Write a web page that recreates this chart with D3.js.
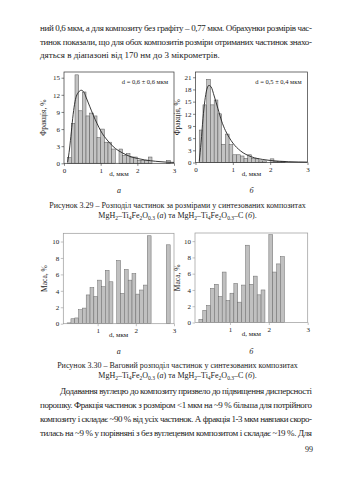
<!DOCTYPE html>
<html><head><meta charset="utf-8">
<script src="https://cdn.jsdelivr.net/npm/d3@7"></script>
<style>
html,body{margin:0;padding:0;background:#fff;}
svg{display:block;font-family:"Liberation Serif","Times New Roman",serif;}
</style></head>
<body>
<script>
// ---- data ----
const binWidth = 0.1;
// number distribution, composite a (bin left edges and %)
const binsTopA   = [0.1,0.2,0.3,0.4,0.5,0.6,0.7,0.8,0.9,1.0,1.1,1.2,1.3,1.5,1.6,1.7,1.8,1.9,2.0,2.1,2.2,2.3,2.8];
const valuesTopA = [1.0,7.0,15.5,9.2,12.5,8.3,8.8,8.3,4.5,6.0,3.7,3.7,2.5,2.5,1.4,1.7,1.1,1.1,0.5,0.5,0.5,1.1,0.5];
const fitTopAx   = [0.1,0.15,0.2,0.25,0.3,0.4,0.47,0.55,0.6,0.7,0.8,0.9,1.0,1.2,1.4,1.6,1.8,2.0,2.2,2.5,2.8,3.0];
const fitTopAy   = [0.2,2.5,5.5,8.6,10.8,12.5,12.8,12.4,11.6,10.0,8.4,7.0,5.7,3.9,2.6,1.8,1.2,0.85,0.6,0.35,0.2,0.15];
// number distribution, composite б
const binsTopB   = [0.1,0.2,0.3,0.4,0.5,0.6,0.7,0.8,0.9,1.0,1.1,1.2,1.3,1.4,1.5,1.6,1.7,1.8,2.0,2.1,2.2,2.3];
const valuesTopB = [8.0,14.2,20.5,14.2,15.4,12.0,4.5,7.0,4.4,1.9,1.9,1.6,1.0,1.9,1.0,0.9,0.4,0.4,0.9,0.3,0.3,0.3];
const fitTopBx   = [0.1,0.15,0.2,0.25,0.3,0.36,0.42,0.5,0.6,0.7,0.8,0.9,1.0,1.2,1.5,1.8,2.0,2.5,3.0];
const fitTopBy   = [0.2,5.0,10.8,15.2,17.9,19.0,18.6,16.4,13.3,10.2,7.9,6.2,4.8,2.9,1.4,0.75,0.5,0.2,0.1];
// mass distribution, composite a
const binsBotA   = [0.2,0.3,0.4,0.5,0.6,0.7,0.8,0.9,1.0,1.1,1.2,1.3,1.5,1.6,1.7,1.8,1.9,2.0,2.1,2.2,2.3,2.8];
const valuesBotA = [0.1,0.6,0.7,1.7,1.9,3.5,4.4,3.3,5.3,4.5,6.5,5.1,7.7,3.7,6.6,5.3,6.1,3.6,4.1,4.7,10.7,9.6];
// mass distribution, composite б
const binsBotB   = [0.2,0.3,0.4,0.5,0.6,0.7,0.8,0.9,1.0,1.1,1.2,1.3,1.4,1.5,1.6,1.7,1.8,2.0,2.1,2.2,2.3];
const valuesBotB = [0.4,1.5,2.1,4.2,4.7,3.2,6.2,2.7,3.6,4.8,2.5,4.6,9.5,4.7,5.7,3.4,4.0,10.8,6.2,7.2,8.1];
// tick labels
const ticksTopA = [0,3,6,9,12,15];
const ticksTopB = [0,3,6,9,12,15,18,21];
const ticksBot  = [0,2,4,6,8,10];
const xTicksTop = [0,1,2,3];
const xTicksBot = [1,2,3];
const yTitleTop = "Фракція, %";
const yTitleBot = "Маса, %";
const xTitle = "d, мкм";
const noteA = "d = 0,6 ± 0,6 мкм";
const noteB = "d = 0,5 ± 0,4 мкм";

const W = 339, H = 480;
const svg = d3.select("body").append("svg").attr("width", W).attr("height", H);

function chart(o){
  const x = d3.scaleLinear().domain(o.xd).range([o.l, o.r]);
  const y = d3.scaleLinear().domain(o.yd).range([o.b, o.t]);
  const g = svg.append("g");
  g.selectAll("rect.bar").data(o.bins.map((b,i)=>({b, v:o.vals[i]})).filter(d=>d.v>0))
    .enter().append("rect").attr("class","bar")
    .attr("x", d=>x(d.b)).attr("width", d=>x(d.b+binWidth)-x(d.b))
    .attr("y", d=>y(d.v)).attr("height", d=>y(0)-y(d.v))
    .attr("fill", o.fill).attr("stroke", o.barStroke).attr("stroke-width", 0.5);
  if (o.fx){
    const line = d3.line().x(d=>x(d[0])).y(d=>y(d[1])).curve(d3.curveMonotoneX);
    g.append("path").datum(o.fx.map((v,i)=>[v,o.fy[i]]))
      .attr("d", line).attr("fill","none").attr("stroke","#222").attr("stroke-width",0.9);
  }
  g.append("rect").attr("x",o.l).attr("y",o.t).attr("width",o.r-o.l).attr("height",o.b-o.t)
    .attr("fill","none").attr("stroke",o.frame).attr("stroke-width",0.7);
  const ya = g.append("g").attr("transform",`translate(${o.l},0)`)
    .call(d3.axisLeft(y).tickValues(o.yt).tickSize(2.5).tickPadding(1.5).tickFormat(d3.format("d")));
  const xa = g.append("g").attr("transform",`translate(0,${o.b})`)
    .call(d3.axisBottom(x).tickValues(o.xt).tickSize(2.5).tickPadding(2).tickFormat(d3.format("d")));
  [ya,xa].forEach(a=>{
    a.select(".domain").remove();
    a.selectAll("line").attr("stroke",o.frame).attr("stroke-width",0.6);
    a.selectAll("text").attr("font-size",7).attr("fill","#222").attr("font-family","Liberation Serif");
  });
  g.append("text").attr("x",(o.l+o.r)/2).attr("y",o.b+13).attr("text-anchor","middle")
    .attr("font-size",7).attr("fill","#222").text(xTitle);
  g.append("text").attr("transform",`translate(${o.ylx},${(o.t+o.b)/2}) rotate(-90)`)
    .attr("text-anchor","middle").attr("font-size",7.5).attr("fill","#222").text(o.yTitle);
  if (o.note){
    g.append("text").attr("x",o.r-6).attr("y",o.t+12).attr("text-anchor","end")
      .attr("font-size",6.5).attr("fill","#222").text(o.note);
  }
  g.append("text").attr("x",(o.l+o.r)/2).attr("y",o.subY).attr("text-anchor","middle")
    .attr("font-size",8).attr("font-style","italic").attr("fill","#222").text(o.sub);
}

chart({l:64,r:174,t:72,b:163.3,xd:[0,3],yd:[0,16],bins:binsTopA,vals:valuesTopA,fx:fitTopAx,fy:fitTopAy,
  yt:ticksTopA,xt:xTicksTop,yTitle:yTitleTop,ylx:46,note:noteA,sub:"а",subY:193,
  fill:"#c3c3c3",barStroke:"#555",frame:"#333"});
chart({l:195.5,r:307.5,t:72,b:162.5,xd:[0,3],yd:[0,22.3],bins:binsTopB,vals:valuesTopB,fx:fitTopBx,fy:fitTopBy,
  yt:ticksTopB,xt:xTicksTop,yTitle:yTitleTop,ylx:180,note:noteB,sub:"б",subY:193,
  fill:"#c3c3c3",barStroke:"#555",frame:"#333"});
chart({l:63.3,r:174,t:233.3,b:323.7,xd:[0.1,3],yd:[0,11],bins:binsBotA,vals:valuesBotA,
  yt:ticksBot,xt:xTicksBot,yTitle:yTitleBot,ylx:47,sub:"а",subY:354,
  fill:"#c0c0c0",barStroke:"#6a6a6a",frame:"#999"});
chart({l:195,r:307.7,t:233,b:322.5,xd:[0.1,3],yd:[0,11],bins:binsBotB,vals:valuesBotB,
  yt:ticksBot,xt:xTicksBot,yTitle:yTitleBot,ylx:180,sub:"б",subY:354,
  fill:"#c0c0c0",barStroke:"#6a6a6a",frame:"#999"});

// ---- page text ----
function tline(x,y,str,opts){
  const t = svg.append("text").attr("x",x).attr("y",y).attr("font-size",opts.fs||9).attr("fill","#222");
  if (opts.len){ t.attr("textLength",opts.len).attr("lengthAdjust","spacing"); }
  if (opts.anchor) t.attr("text-anchor",opts.anchor);
  return t;
}
const body1 = [
  ["ний 0,6 мкм, а для композиту без графіту – 0,77 мкм. Обрахунки розмірів час-",40,31,272],
  ["тинок показали, що для обох композитів розміри отриманих частинок знахо-",40,45,272],
  ["дяться в діапазоні від 170 нм до 3 мікрометрів.",40,58,0]
];
body1.forEach(d=>{ tline(d[1],d[2],d[0],{len:d[3]}).text(d[0]); });

const body2 = [
  ["Додавання вуглецю до композиту призвело до підвищення дисперсності",60,394,252],
  ["порошку. Фракція частинок з розміром <1 мкм на ~9 % більша для потрійного",40,408,272],
  ["композиту і складає ~90 % від усіх частинок. А фракція 1-3 мкм навпаки скоро-",40,422,272],
  ["тилась на ~9 % у порівняні з без вуглецевим композитом і складає ~19 %. Для",40,436,272]
];
body2.forEach(d=>{ tline(d[1],d[2],d[0],{len:d[3]}).text(d[0]); });
tline(313,452,"99",{fs:8,anchor:"end"}).text("99");

function formula(t, tail){
  const sub = s => t.append("tspan").attr("font-size",5.5).attr("dy",1.8).text(s);
  const up = s => t.append("tspan").attr("dy",-1.8).text(s);
  t.append("tspan").text("MgH"); sub("2"); up("–Ti"); sub("4"); up("Fe"); sub("2"); up("O"); sub("0.3");
  return up;
}
function caption(y1, line1){
  svg.append("text").attr("x",177.5).attr("y",y1).attr("text-anchor","middle").attr("font-size",8).attr("fill","#222").text(line1);
  const t = svg.append("text").attr("x",177.5).attr("y",y1+10).attr("text-anchor","middle").attr("font-size",8).attr("fill","#222");
  const up = formula(t);
  up(" (");
  t.append("tspan").attr("font-style","italic").text("а");
  t.append("tspan").text(") та ");
  formula(t);
  up("–C (");
  t.append("tspan").attr("font-style","italic").text("б");
  t.append("tspan").text(").");
}
caption(208, "Рисунок 3.29 – Розподіл частинок за розмірами у синтезованих композитах");
caption(368, "Рисунок 3.30 – Ваговий розподіл частинок у синтезованих композитах");
</script>
</body></html>
